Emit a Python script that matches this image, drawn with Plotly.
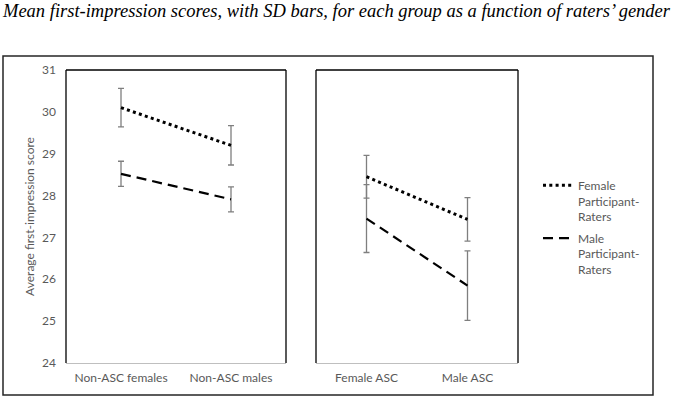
import plotly.graph_objects as go

# ---- data ----
groups_left = ["Non-ASC females", "Non-ASC males"]
groups_right = ["Female ASC", "Male ASC"]
female_raters_left = [30.10, 29.20]
female_raters_left_sd = [0.46, 0.47]
male_raters_left = [28.52, 27.91]
male_raters_left_sd = [0.30, 0.30]
female_raters_right = [28.45, 27.43]
female_raters_right_sd = [0.51, 0.52]
male_raters_right = [27.45, 25.85]
male_raters_right_sd = [0.81, 0.83]
y_ticks = [24, 25, 26, 27, 28, 29, 30, 31]
series_names = ["Female<br>Participant-<br>Raters", "Male<br>Participant-<br>Raters"]
title_text = "Mean first-impression scores, with SD bars, for each group as a function of raters’ gender"
y_title = "Average first-impression score"

W, H = 678, 397
TEXT = "#595959"
ERR = "#7f7f7f"
FONT = "Lato, 'Open Sans', sans-serif"

def px_x(v):
    return v / W

def px_y(v):
    return 1 - v / H

fig = go.Figure()

def add(x, y, sd, name, dash, width, xa, ya, show):
    fig.add_trace(go.Scatter(
        x=x, y=y, mode="lines", name=name, xaxis=xa, yaxis=ya,
        line=dict(color="black", dash=dash, width=width),
        error_y=dict(type="data", array=sd, visible=True, color=ERR, thickness=1.3, width=3),
        legendgroup=name, showlegend=show,
    ))

DOT = "3px,3.3px"
DASH = "10px,6px"
add(groups_left, female_raters_left, female_raters_left_sd, series_names[0], DOT, 3, "x", "y", True)
add(groups_left, male_raters_left, male_raters_left_sd, series_names[1], DASH, 2.2, "x", "y", True)
add(groups_right, female_raters_right, female_raters_right_sd, series_names[0], DOT, 3, "x2", "y2", False)
add(groups_right, male_raters_right, male_raters_right_sd, series_names[1], DASH, 2.2, "x2", "y2", False)

ydom = [px_y(363), px_y(70)]
common_x = dict(showgrid=False, zeroline=False, ticks="", showline=True, linecolor="#bfbfbf",
                linewidth=1, tickfont=dict(family=FONT, size=12, color=TEXT),
                range=[-0.5, 1.5], ticklabelstandoff=4, automargin=False)
fig.update_layout(
    width=W, height=H,
    margin=dict(l=0, r=0, t=0, b=0, autoexpand=False),
    paper_bgcolor="white", plot_bgcolor="white",
    xaxis=dict(domain=[px_x(66), px_x(286)], anchor="y", **common_x),
    xaxis2=dict(domain=[px_x(316), px_x(518)], anchor="y2", **common_x),
    yaxis=dict(domain=ydom, range=[24, 31], tickvals=y_ticks, showgrid=False, zeroline=False,
               ticks="", showline=False, tickfont=dict(family=FONT, size=12, color=TEXT),
               ticklabelstandoff=9, automargin=False,
               title=dict(text=y_title, font=dict(family=FONT, size=12, color=TEXT), standoff=4)),
    yaxis2=dict(domain=ydom, range=[24, 31], anchor="x2", showgrid=False, zeroline=False,
                showticklabels=False, ticks="", showline=False, automargin=False),
    showlegend=True,
    legend=dict(x=px_x(538), y=px_y(171), xanchor="left", yanchor="top", valign="top",
                font=dict(family=FONT, size=12, color=TEXT), bgcolor="rgba(0,0,0,0)",
                tracegroupgap=3, itemwidth=30),
    title=dict(text="<i>" + title_text + "</i>", x=px_x(3), xanchor="left", y=px_y(11), yanchor="middle",
               pad=dict(l=0, r=0, t=0, b=0),
               font=dict(family="Liberation Serif, serif", size=18.5, color="black")),
)

shapes = []
# outer frame
shapes.append(dict(type="rect", xref="paper", yref="paper", x0=px_x(3), x1=px_x(653), y0=px_y(395), y1=px_y(56),
                   line=dict(color="#262626", width=1.5)))
# panel borders (left, top, right in black)
for xr, yr in [("x domain", "y domain"), ("x2 domain", "y2 domain")]:
    for (x0, y0, x1, y1) in [(0, 0, 0, 1), (0, 1, 1, 1), (1, 0, 1, 1)]:
        shapes.append(dict(type="line", xref=xr, yref=yr, x0=x0, y0=y0, x1=x1, y1=y1,
                           line=dict(color="black", width=1.3)))
fig.update_layout(shapes=shapes)

fig.write_html("out.html", config={"displayModeBar": False},
               post_script="document.body.style.margin='0';")
